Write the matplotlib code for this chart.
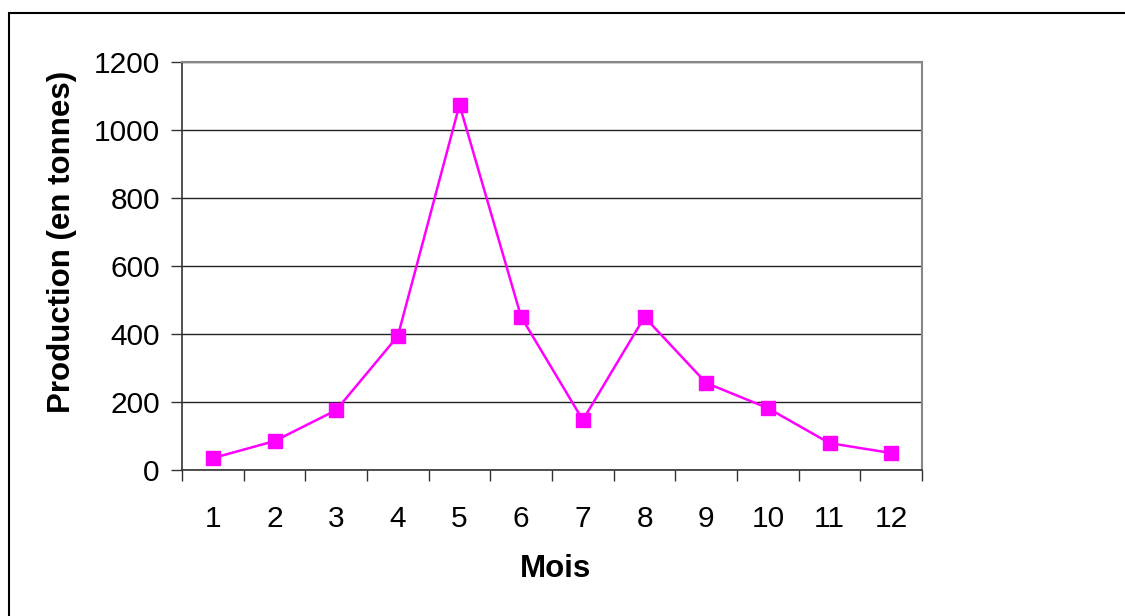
import matplotlib
matplotlib.use("Agg")
import matplotlib.pyplot as plt
from matplotlib.patches import Rectangle
from matplotlib.ticker import FixedLocator

months = ["1", "2", "3", "4", "5", "6", "7", "8", "9", "10", "11", "12"]
production = [35, 85, 176, 394, 1074, 450, 147, 450, 256, 182, 79, 50]
yticks = [0, 200, 400, 600, 800, 1000, 1200]

plt.rcParams['font.family'] = ['Liberation Sans', 'DejaVu Sans']

W, H = 1125, 616
fig = plt.figure(figsize=(W / 100, H / 100), dpi=100)
l, r, t, b = 182, 922, 62, 470
ax = fig.add_axes([l / W, 1 - b / H, (r - l) / W, (b - t) / H])

x = list(range(len(months)))
ax.plot(x, production, color='#FF00FF', lw=1.8, marker='s', ms=10.5,
        mec='#FF00FF', mfc='#FF00FF', zorder=3)

ax.set_xlim(-0.5, len(months) - 0.5)
ax.set_ylim(0, 1200)
ax.set_yticks(yticks)
ax.set_yticklabels([str(v) for v in yticks], fontsize=21.5)
ax.set_xticks(x)
ax.set_xticklabels(months, fontsize=21.5)
ax.xaxis.set_minor_locator(FixedLocator([i - 0.5 for i in range(len(months) + 1)]))
ax.tick_params(axis='x', which='major', length=0, pad=25)
ax.tick_params(axis='x', which='minor', length=8, width=1, direction='out', color='#333333')
ax.tick_params(axis='y', which='major', length=8, width=1, direction='out', pad=8, color='#333333')

ax.yaxis.grid(True, color='#222222', lw=1)
ax.set_axisbelow(True)
for s in ['left', 'bottom']:
    ax.spines[s].set_color('#333333')
    ax.spines[s].set_linewidth(1.2)
ax.spines['top'].set_color('#888888')
ax.spines['top'].set_linewidth(1.5)
ax.spines['right'].set_color('#888888')
ax.spines['right'].set_linewidth(1.5)

ax.set_ylabel("Production (en tonnes)", fontsize=22.5, fontweight='bold', va='center')
ax.yaxis.set_label_coords((62 - l) / (r - l), (b - 242) / (b - t))
ax.set_xlabel("Mois", fontsize=22.5, fontweight='bold', va='center')
ax.xaxis.set_label_coords((555 - l) / (r - l), -(569 - b) / (b - t))

fig.patches.append(Rectangle((9 / W, -0.05), 1.1, 1 - 13 / H + 0.05,
                             transform=fig.transFigure, fill=False,
                             edgecolor='black', lw=1.5))

fig.savefig("out.png", dpi=100)
